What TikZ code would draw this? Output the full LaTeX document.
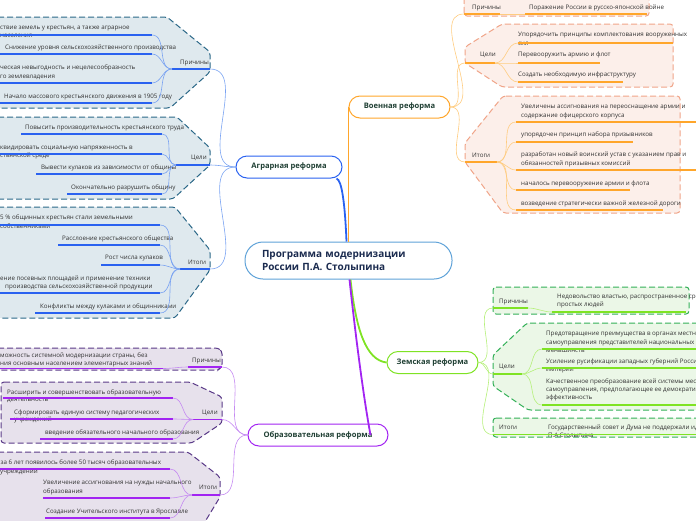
\documentclass[tikz,border=0pt]{standalone}
\usepackage{fontspec}
\setmainfont{Open Sans}
\definecolor{agfill}{HTML}{DFE9EE}
\definecolor{agedge}{HTML}{2B6888}
\definecolor{agline}{HTML}{2A62F0}
\definecolor{agconn}{HTML}{7AA3F2}
\definecolor{edfill}{HTML}{E7E1EC}
\definecolor{ededge}{HTML}{5A3A88}
\definecolor{edline}{HTML}{A224F2}
\definecolor{edconn}{HTML}{C58AF2}
\definecolor{mifill}{HTML}{FCEFEA}
\definecolor{miedge}{HTML}{F0A488}
\definecolor{miline}{HTML}{FFA62B}
\definecolor{miconn}{HTML}{FFCC80}
\definecolor{zefill}{HTML}{EBF7E7}
\definecolor{zeedge}{HTML}{33B058}
\definecolor{zeline}{HTML}{7FE324}
\definecolor{zeconn}{HTML}{B5F07A}
\definecolor{mainedge}{HTML}{5FA2D8}
\definecolor{maintext}{HTML}{1B2B4F}
\definecolor{reftext}{HTML}{1F3F33}
\definecolor{itemtext}{HTML}{333333}
\begin{document}
\begin{tikzpicture}[x=1pt,y=-1pt,
  grp/.style={dash pattern=on 6pt off 3pt, line width=1pt, rounded corners=3pt},
  itm/.style={anchor=base west, inner sep=0pt, font=\fontsize{6.2}{8}\selectfont, text=itemtext},
  ul/.style={line width=1.8pt},
  conn/.style={line width=0.6pt},
  bigconn/.style={line width=1.8pt},
  reform/.style={draw, fill=white, line width=1pt, rounded corners=11pt, font=\bfseries\fontsize{7.6}{9}\selectfont, text=reftext, inner sep=0pt, minimum height=22pt},
  mainnode/.style={draw=mainedge, fill=white, line width=1pt, rounded corners=18pt, font=\bfseries\fontsize{10}{12.7}\selectfont, text=maintext, inner xsep=17pt, inner ysep=0pt, minimum height=37pt, align=left}
]
\useasboundingbox (0,0) rectangle (696,520);
\clip (0,0) rectangle (696,520);

% ================= group shapes =================
% Agrarian
\filldraw[grp, fill=agfill, draw=agedge] (-5,17) -- (167,17) -- (210,52) -- (210,72) -- (170,108) -- (-5,108) -- cycle;
\filldraw[grp, fill=agfill, draw=agedge] (-5,117) -- (177,117) -- (210,148) -- (210,165) -- (173,199) -- (-5,199) -- cycle;
\filldraw[grp, fill=agfill, draw=agedge] (-5,207) -- (175,207) -- (210,250) -- (210,270) -- (175,318) -- (-5,318) -- cycle;
% Education
\filldraw[grp, fill=edfill, draw=ededge] (-5,348) -- (218,348) -- (222,351) -- (222,367) -- (218,370) -- (-5,370) -- cycle;
\filldraw[grp, fill=edfill, draw=ededge] (1,382) -- (190,382) -- (222,397) -- (222,423) -- (192,443) -- (1,443) -- cycle;
\filldraw[grp, fill=edfill, draw=ededge] (-5,452) -- (188,452) -- (220,477) -- (220,497) -- (200,530) -- (-5,530) -- cycle;
% Military
\filldraw[grp, fill=mifill, draw=miedge] (464,-5) -- (649,-5) -- (649,16) -- (464,16) -- cycle;
\filldraw[grp, fill=mifill, draw=miedge] (502,24) -- (673,24) -- (673,87) -- (502,87) -- (465,63) -- (465,47) -- cycle;
\filldraw[grp, fill=mifill, draw=miedge] (503,96) -- (680,96) -- (680,213) -- (503,213) -- (465,162) -- (465,143) -- cycle;
% Zemstvo
\filldraw[grp, fill=zefill, draw=zeedge] (493,287) -- (689,287) -- (689,314) -- (493,314) -- cycle;
\filldraw[grp, fill=zefill, draw=zeedge] (527,323) -- (705,323) -- (705,410) -- (528,410) -- (493,386) -- (493,355) -- cycle;
\filldraw[grp, fill=zefill, draw=zeedge] (493,418) -- (705,418) -- (705,437) -- (493,437) -- cycle;

% ================= Agrarian: Причины =================
\node[itm] (apl) at (180,64) {Причины};
\node[itm] (ap1) at (0,29) {ствие земель у крестьян, а также аграрное};
\node[itm] (ap1b) at (0,37) {населения};
\node[itm] (ap2) at (5,49) {Снижение уровня сельскохозяйственного производства};
\node[itm] (ap3) at (0,69) {ческая невыгодность и нецелесообразность};
\node[itm] (ap3b) at (0,78) {го землевладения};
\node[itm] (ap4) at (4,98) {Начало массового крестьянского движения в 1905 году};
\draw[ul,agline] (172,69) coordinate (apA) -- (210,69) coordinate (apB);
\draw[ul,agline] (-5,35) -- (152,35) coordinate (ap1R);
\draw[ul,agline] (-5,54) -- (152,54) coordinate (ap2R);
\draw[ul,agline] (-5,83) -- (152,83) coordinate (ap3R);
\draw[ul,agline] (-5,103) -- (152,103) coordinate (ap4R);
\foreach \t in {ap1R,ap2R,ap3R,ap4R} \draw[conn,agconn] (apA) to[out=180,in=0] (\t);

% ================= Agrarian: Цели =================
\node[itm] (acl) at (191,159) {Цели};
\node[itm] (ac1) at (25,129) {Повысить производительность крестьянского труда};
\node[itm] (ac2) at (0,149) {квидировать социальную напряженность в};
\node[itm] (ac2b) at (0,157) {стьянской среде};
\node[itm] (ac3) at (41,169) {Вывести кулаков из зависимости от общины};
\node[itm] (ac4) at (71,189) {Окончательно разрушить общину};
\draw[ul,agline] (176,165) coordinate (acA) -- (210,165) coordinate (acB);
\draw[ul,agline] (21,134) -- (162,134) coordinate (ac1R);
\draw[ul,agline] (-5,154) -- (162,154) coordinate (ac2R);
\draw[ul,agline] (36,174) -- (162,174) coordinate (ac3R);
\draw[ul,agline] (67,194) -- (162,194) coordinate (ac4R);
\foreach \t in {ac1R,ac2R,ac3R,ac4R} \draw[conn,agconn] (acA) to[out=180,in=0] (\t);

% ================= Agrarian: Итоги =================
\node[itm] (atl) at (188,264) {Итоги};
\node[itm] (at1) at (0,219) {5 \% общинных крестьян стали земельными};
\node[itm] (at1b) at (0,228) {собственниками};
\node[itm] (at2) at (62,240) {Расслоение крестьянского общества};
\node[itm] (at3) at (105,259) {Рост числа кулаков};
\node[itm] (at4) at (0,280) {ение посевных площадей и применение техники};
\node[itm] (at4b) at (5,288) {производства сельскохозяйственной продукции};
\node[itm] (at5) at (40,308) {Конфликты между кулаками и общинниками};
\draw[ul,agline] (180,269) coordinate (atA) -- (210,269) coordinate (atB);
\draw[ul,agline] (-5,225) -- (160,225) coordinate (at1R);
\draw[ul,agline] (58,245) -- (160,245) coordinate (at2R);
\draw[ul,agline] (101,265) -- (160,265) coordinate (at3R);
\draw[ul,agline] (-5,293) -- (160,293) coordinate (at4R);
\draw[ul,agline] (35,313) -- (160,313) coordinate (at5R);
\foreach \t in {at1R,at2R,at3R,at4R,at5R} \draw[conn,agconn] (atA) to[out=180,in=0] (\t);

% ================= Education: Причины =================
\node[itm] (epl) at (192,362) {Причины};
\node[itm] (ep1) at (0,357) {можность системной модернизации страны, без};
\node[itm] (ep1b) at (0,365) {ния основным населением элементарных знаний};
\draw[ul,edline] (188,367) coordinate (epA) -- (222,367) coordinate (epB);
\draw[ul,edline] (-5,368.5) -- (163,368.5) coordinate (ep1R);
\draw[conn,edconn] (epA) to[out=180,in=0] (ep1R);

% ================= Education: Цели =================
\node[itm] (ecl) at (202,414) {Цели};
\node[itm] (ec1) at (7,394) {Расширить и совершенствовать образовательную};
\node[itm] (ec1b) at (7,401) {деятельность};
\node[itm] (ec2) at (14,414) {Сформировать единую систему педагогических};
\node[itm] (ec2b) at (14,421) {учреждений};
\node[itm] (ec3) at (45,434) {введение обязательного начального образования};
\draw[ul,edline] (193,419.5) coordinate (ecA) -- (222,419.5) coordinate (ecB);
\draw[ul,edline] (3,398) -- (173,398) coordinate (ec1R);
\draw[ul,edline] (10,419) -- (173,419) coordinate (ec2R);
\draw[ul,edline] (40,439) -- (173,439) coordinate (ec3R);
\foreach \t in {ec1R,ec2R,ec3R} \draw[conn,edconn] (ecA) to[out=180,in=0] (\t);

% ================= Education: Итоги =================
\node[itm] (etl) at (199,489) {Итоги};
\node[itm] (et1) at (0.5,464) {за 6 лет появилось более 50 тысяч образовательных};
\node[itm] (et1b) at (0,473) {учреждений};
\node[itm] (et2) at (43,484) {Увеличение ассигнования на нужды начального};
\node[itm] (et2b) at (43,493) {образования};
\node[itm] (et3) at (46,513) {Создание Учительского института в Ярославле};
\draw[ul,edline] (192,495) coordinate (etA) -- (220,495) coordinate (etB);
\draw[ul,edline] (-5,469) -- (170,469) coordinate (et1R);
\draw[ul,edline] (43,498) -- (170,498) coordinate (et2R);
\draw[ul,edline] (45,518) -- (170,518) coordinate (et3R);
\foreach \t in {et1R,et2R,et3R} \draw[conn,edconn] (etA) to[out=180,in=0] (\t);

% ================= Military: Причины =================
\node[itm] (mpl) at (472,9) {Причины};
\node[itm] (mp1) at (529,9) {Поражение России в русско-японской войне};
\draw[ul,miline] (464,14) coordinate (mpA) -- (500,14) coordinate (mpB);
\draw[ul,miline] (525,14) coordinate (mp1L) -- (647,14);
\draw[conn,miconn] (mpB) -- (mp1L);

% ================= Military: Цели =================
\node[itm] (mcl) at (480,56) {Цели};
\node[itm] (mc1) at (518,36) {Упорядочить принципы комплектования вооруженных};
\node[itm] (mc1b) at (518,45) {сил};
\node[itm] (mc2) at (518,56) {Перевооружить армию и флот};
\node[itm] (mc3) at (518,76) {Создать необходимую инфраструктуру};
\draw[ul,miline] (465,63) coordinate (mcA) -- (495,63) coordinate (mcB);
\draw[ul,miline] (518,43) coordinate (mc1L) -- (673,43);
\draw[ul,miline] (518,63) coordinate (mc2L) -- (600,63);
\draw[ul,miline] (518,82) coordinate (mc3L) -- (623,82);
\foreach \t in {mc1L,mc2L,mc3L} \draw[conn,miconn] (mcB) to[out=0,in=180] (\t);

% ================= Military: Итоги =================
\node[itm] (mtl) at (472,157) {Итоги};
\node[itm] (mt1) at (521,108) {Увеличены ассигнования на переоснащение армии и};
\node[itm] (mt1b) at (521,117) {содержание офицерского корпуса};
\node[itm] (mt2) at (521,136) {упорядочен принцип набора призывников};
\node[itm] (mt3) at (521,156) {разработан новый воинский устав с указанием прав и};
\node[itm] (mt3b) at (521,165) {обязанностей призывных комиссий};
\node[itm] (mt4) at (521,185) {началось перевооружение армии и флота};
\node[itm] (mt5) at (521,205) {возведение стратегически важной железной дороги};
\draw[ul,miline] (465,162) coordinate (mtA) -- (497,162) coordinate (mtB);
\draw[ul,miline] (516,122) coordinate (mt1L) -- (700,122);
\draw[ul,miline] (516,142) coordinate (mt2L) -- (633,142);
\draw[ul,miline] (516,170) coordinate (mt3L) -- (700,170);
\draw[ul,miline] (516,190) coordinate (mt4L) -- (630,190);
\draw[ul,miline] (516,210) coordinate (mt5L) -- (663,210);
\foreach \t in {mt1L,mt2L,mt3L,mt4L,mt5L} \draw[conn,miconn] (mtB) to[out=0,in=180] (\t);

% ================= Zemstvo: Причины =================
\node[itm] (zpl) at (499,303) {Причины};
\node[itm] (zp1) at (557,298) {Недовольство властью, распространенное среди};
\node[itm] (zp1b) at (557,306) {простых людей};
\draw[ul,zeline] (493,308) coordinate (zpA) -- (528,308) coordinate (zpB);
\draw[ul,zeline] (552,312) coordinate (zp1L) -- (686,312);
\draw[conn,zeconn] (zpB) to[out=0,in=180] (zp1L);

% ================= Zemstvo: Цели =================
\node[itm] (zcl) at (499,368) {Цели};
\node[itm] (zc1) at (546,335) {Предотвращение преимущества в органах местного};
\node[itm] (zc1b) at (546,344) {самоуправления представителей национальных};
\node[itm] (zc1c) at (546,352) {меньшинств};
\node[itm] (zc2) at (546,363) {Усиление русификации западных губерний России};
\node[itm] (zc2b) at (546,371) {империи};
\node[itm] (zc3) at (546,383) {Качественное преобразование всей системы местного};
\node[itm] (zc3b) at (546,391) {самоуправления, предполагающее ее демократизацию и};
\node[itm] (zc3c) at (546,399) {эффективность};
\draw[ul,zeline] (493,374) coordinate (zcA) -- (522,374) coordinate (zcB);
\draw[ul,zeline] (542,349) coordinate (zc1L) -- (700,349);
\draw[ul,zeline] (542,368) coordinate (zc2L) -- (700,368);
\draw[ul,zeline] (542,405) coordinate (zc3L) -- (700,405);
\foreach \t in {zc1L,zc2L,zc3L} \draw[conn,zeconn] (zcB) to[out=0,in=180] (\t);

% ================= Zemstvo: Итоги =================
\node[itm] (ztl) at (499,429) {Итоги};
\node[itm] (zt1) at (548,429) {Государственный совет и Дума не поддержали идеи};
\node[itm] (zt1b) at (548,437) {П.А.Столыпина};
\draw[ul,zeline] (493,434.5) coordinate (ztA) -- (700,434.5);

% ================= main nodes =================
\node[mainnode, text width=173pt] (main) at (348.5,260.5) {Программа модернизации\\России П.А. Столыпина};
\node[reform, draw=agline, minimum width=106pt] (agr) at (289,167) {Аграрная реформа};
\node[reform, draw=edline, minimum width=140pt] (edu) at (318,435) {Образовательная реформа};
\node[reform, draw=miline, minimum width=101pt] (mil) at (399.5,107) {Военная реформа};
\node[reform, draw=zeline, minimum width=91pt] (zem) at (432.5,362.5) {Земская реформа};

% sub-connectors from reform nodes to groups
\foreach \t in {apB,acB,atB} \draw[conn,agconn] (agr.west) to[out=180,in=0] (\t);
\foreach \t in {epB,ecB,etB} \draw[conn,edconn] (edu.west) to[out=180,in=0] (\t);
\foreach \t in {mpA,mcA,mtA} \draw[conn,miconn] (mil.east) to[out=0,in=180] (\t);
\foreach \t in {zpA,zcA,ztA} \draw[conn,zeconn] (zem.east) to[out=0,in=180] (\t);

% main connectors
\draw[bigconn, agline] (main.north) ++(-2,0) .. controls (345,205) and (342,180) .. ([xshift=-6pt]agr.south east);
\draw[bigconn, miline] (main.north) -- (mil.west |- main.north) -- (mil.west);
\draw[bigconn, zeline] ([xshift=2pt]main.south) .. controls (356,330) and (366,360) .. (zem.west);
\draw[bigconn, edline] ([xshift=1pt]main.south) .. controls (356,340) and (364,400) .. ([xshift=-18pt]edu.east);
\end{tikzpicture}
\end{document}
